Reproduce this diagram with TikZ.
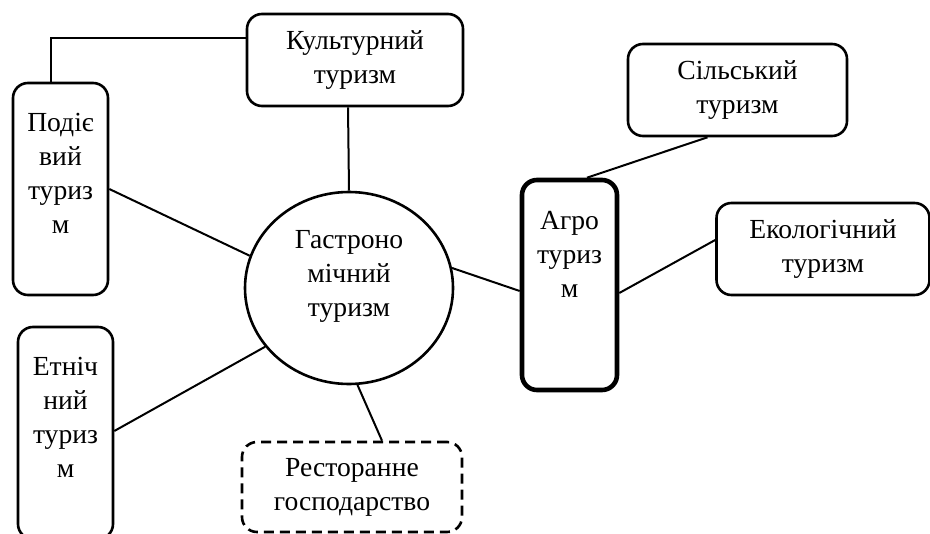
\documentclass[tikz,border=0pt]{standalone}
\usepackage{fontspec}
\setmainfont{Liberation Serif}
\usetikzlibrary{positioning}
\usetikzlibrary{shapes.geometric}

\begin{document}
\begin{tikzpicture}[x=0.5pt, y=-0.5pt]
  \tikzset{
    txt/.style = {align=center, font=\fontsize{13.8}{17}\selectfont, inner sep=0pt},
    widebox/.style = {txt, draw, line width=1.3pt, rounded corners=7.5pt, minimum width=108pt, minimum height=46pt},
    tallbox/.style = {draw, line width=1.3pt, rounded corners=7.5pt, minimum width=47.5pt},
    link/.style = {line width=1pt}
  }
  \useasboundingbox (0,0) rectangle (930,534);

  \node[ellipse, draw, line width=1.3pt, minimum width=104pt, minimum height=96pt] (circ) at (349,288) {};
  \node[txt] (circt) at (349,276) {Гастроно\\мічний\\туризм};

  \node[widebox] (kult) at (355,60) {Культурний\\туризм};
  \node[widebox, minimum width=109.5pt] (silsk) at (737.5,90) {Сільський\\туризм};
  \node[widebox, minimum width=106.5pt] (ekol) at (823,249) {Екологічний\\туризм};
  \node[widebox, dashed, dash pattern=on 5pt off 3pt, minimum width=110pt, minimum height=45pt] (rest) at (352,487) {Ресторанне\\господарство};

  \node[tallbox, minimum height=106pt] (podii) at (60.5,189) {};
  \node[txt] (podiit) at (60.5,173) {Подіє\\вий\\туриз\\м};
  \node[tallbox, line width=2.3pt, minimum height=105pt] (agro) at (569.5,285) {};
  \node[txt] (agrot) at (569.5,254) {Агро\\туриз\\м};
  \node[tallbox, minimum height=106pt] (etn) at (65.5,433) {};
  \node[txt] (etnt) at (65.5,417) {Етніч\\ний\\туриз\\м};

  % links
  \draw[link] ([xshift=-4.75pt]podii.north) |- ([yshift=11pt]kult.west);
  \draw[link] ([xshift=-3.5pt]kult.south) -- (circ.north);
  \draw[link] (podii.east) -- (circ.162);
  \draw[link] ([yshift=1pt]etn.east) -- (circ.215);
  \draw[link] (circ.275) -- ([xshift=15pt]rest.north);
  \draw[link] (circ.11) -- ([yshift=-3pt]agro.west);
  \draw[link] ([xshift=-15pt]silsk.south) -- ([xshift=8.75pt]agro.north);
  \draw[link] ([yshift=4.5pt]ekol.west) -- ([yshift=-4pt]agro.east);
\end{tikzpicture}
\end{document}
